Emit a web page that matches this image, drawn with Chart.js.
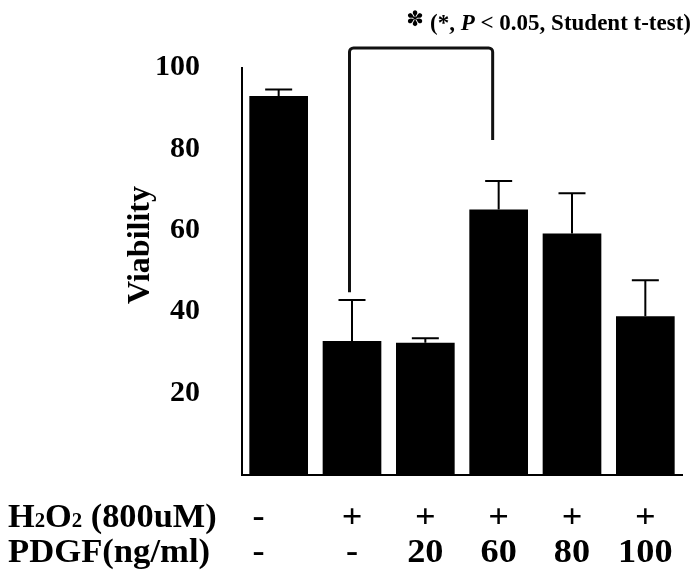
<!DOCTYPE html>
<html>
<head>
<meta charset="utf-8">
<script src="https://cdn.jsdelivr.net/npm/chart.js@4/dist/chart.umd.min.js"></script>
<style>
  html, body { margin: 0; padding: 0; background: #fff; }
  #wrap { width: 696px; height: 577px; }
</style>
</head>
<body>
<div id="wrap"><canvas id="c" width="696" height="577"></canvas></div>
<script>
// ---- data ----
const categories = ['1', '2', '3', '4', '5', '6'];
const viability = [93.0, 32.8, 32.4, 65.1, 59.2, 38.9];
const viabilityErr = [1.6, 10.1, 1.1, 7.0, 9.9, 8.8];
const h2o2Labels = ['-', '+', '+', '+', '+', '+'];
const pdgfLabels = ['-', '-', '20', '60', '80', '100'];
const yTicks = [20, 40, 60, 80, 100];
// significance bracket: from group 2 to group 4
const bracketGroups = [1, 3];
const bracketEnds = [44.8, 82.2];
const bracketTop = 104.8;

const SERIF = '"Liberation Serif", "Times New Roman", serif';

function stretchedText(ctx, text, x, y, sx, align) {
  ctx.save();
  const w = ctx.measureText(text).width * sx;
  let left = x;
  if (align === 'center') left = x - w / 2;
  else if (align === 'right') left = x - w;
  ctx.translate(left, y);
  ctx.scale(sx, 1);
  ctx.textAlign = 'left';
  ctx.fillText(text, 0, 0);
  ctx.restore();
  return w;
}

const extrasPlugin = {
  id: 'extras',
  afterDatasetsDraw(chart) {
    const ctx = chart.ctx;
    const xs = chart.scales.x, ys = chart.scales.y;
    ctx.save();
    // error bars (upper only)
    ctx.strokeStyle = '#000';
    ctx.lineWidth = 2;
    viability.forEach((v, i) => {
      const x = xs.getPixelForValue(i);
      const yb = ys.getPixelForValue(v);
      const yt = ys.getPixelForValue(v + viabilityErr[i]);
      ctx.beginPath();
      ctx.moveTo(x, yb);
      ctx.lineTo(x, yt);
      ctx.moveTo(x - 13.5, yt);
      ctx.lineTo(x + 13.5, yt);
      ctx.stroke();
    });
    // bracket
    const xl = xs.getPixelForValue(bracketGroups[0]) - 2.5;
    const xr = xs.getPixelForValue(bracketGroups[1]) - 6;
    const yt = ys.getPixelForValue(bracketTop);
    const yl = ys.getPixelForValue(bracketEnds[0]);
    const yr = ys.getPixelForValue(bracketEnds[1]);
    ctx.strokeStyle = '#111';
    ctx.lineWidth = 3;
    ctx.beginPath();
    ctx.moveTo(xl, yl);
    ctx.arcTo(xl, yt, xr, yt, 4);
    ctx.arcTo(xr, yt, xr, yr, 4);
    ctx.lineTo(xr, yr);
    ctx.stroke();
    ctx.restore();
  },
  afterDraw(chart) {
    const ctx = chart.ctx;
    const xs = chart.scales.x;
    ctx.save();
    ctx.fillStyle = '#000';
    // y title
    ctx.save();
    ctx.translate(141, 245);
    ctx.rotate(-Math.PI / 2);
    ctx.font = 'bold 32px ' + SERIF;
    ctx.textAlign = 'center';
    ctx.textBaseline = 'middle';
    ctx.fillText('Viability', 0, 0);
    ctx.restore();

    // row headers
    ctx.textBaseline = 'alphabetic';
    const big = 'bold 33px ' + SERIF, small = 'bold 20px ' + SERIF;
    let x = 8;
    const parts = [['H', big], ['2', small], ['O', big], ['2', small], [' (800uM)', big]];
    parts.forEach(([t, f]) => {
      ctx.font = f;
      x += stretchedText(ctx, t, x, 527, 1.04, 'left');
    });
    ctx.font = big;
    stretchedText(ctx, 'PDGF(ng/ml)', 8, 562, 1.05, 'left');

    // column labels
    ctx.font = big;
    categories.forEach((c, i) => {
      const cx = xs.getPixelForValue(i) + (i === 0 ? -20 : 0);
      stretchedText(ctx, h2o2Labels[i], cx, 527, 1.1, 'center');
      stretchedText(ctx, pdgfLabels[i], cx, 562, 1.1, 'center');
    });

    // annotation
    const segs = [['(*, ', 'bold 23px ' + SERIF], ['P', 'italic bold 23px ' + SERIF], [' < 0.05, Student t-test)', 'bold 23px ' + SERIF]];
    let total = 0;
    segs.forEach(([t, f]) => { ctx.font = f; total += ctx.measureText(t).width; });
    let ax = 691 - total;
    ctx.textAlign = 'left';
    segs.forEach(([t, f]) => {
      ctx.font = f;
      ctx.fillText(t, ax, 30);
      ax += ctx.measureText(t).width;
    });
    ctx.font = 'bold 21px "DejaVu Sans", sans-serif';
    ctx.textAlign = 'center';
    ctx.textBaseline = 'middle';
    ctx.fillText('\u273D', 415, 21);
    ctx.restore();
  }
};

new Chart(document.getElementById('c'), {
  type: 'bar',
  data: {
    labels: categories,
    datasets: [{
      data: viability,
      backgroundColor: '#000',
      borderWidth: 0,
      barPercentage: 0.8,
      categoryPercentage: 1.0
    }]
  },
  options: {
    responsive: false,
    devicePixelRatio: 1,
    animation: false,
    layout: { padding: { left: 122, top: 67.5, right: 14, bottom: 0 } },
    plugins: { legend: { display: false }, tooltip: { enabled: false }, title: { display: false } },
    scales: {
      x: {
        type: 'category',
        grid: { display: false },
        border: { display: true, color: '#000', width: 2 },
        ticks: { display: false },
        afterFit: s => { s.height = 102.5; }
      },
      y: {
        min: 0, max: 100,
        afterBuildTicks: s => { s.ticks = [0].concat(yTicks).map(v => ({ value: v })); },
        grid: { display: false },
        border: { display: true, color: '#000', width: 2 },
        ticks: {
          color: '#000',
          padding: 34,
          font: { family: SERIF, size: 30, weight: 'bold' },
          callback: v => (v === 0 ? '' : String(v))
        },
        afterFit: s => { s.width = 120; }
      }
    }
  },
  plugins: [extrasPlugin]
});
</script>
</body>
</html>
